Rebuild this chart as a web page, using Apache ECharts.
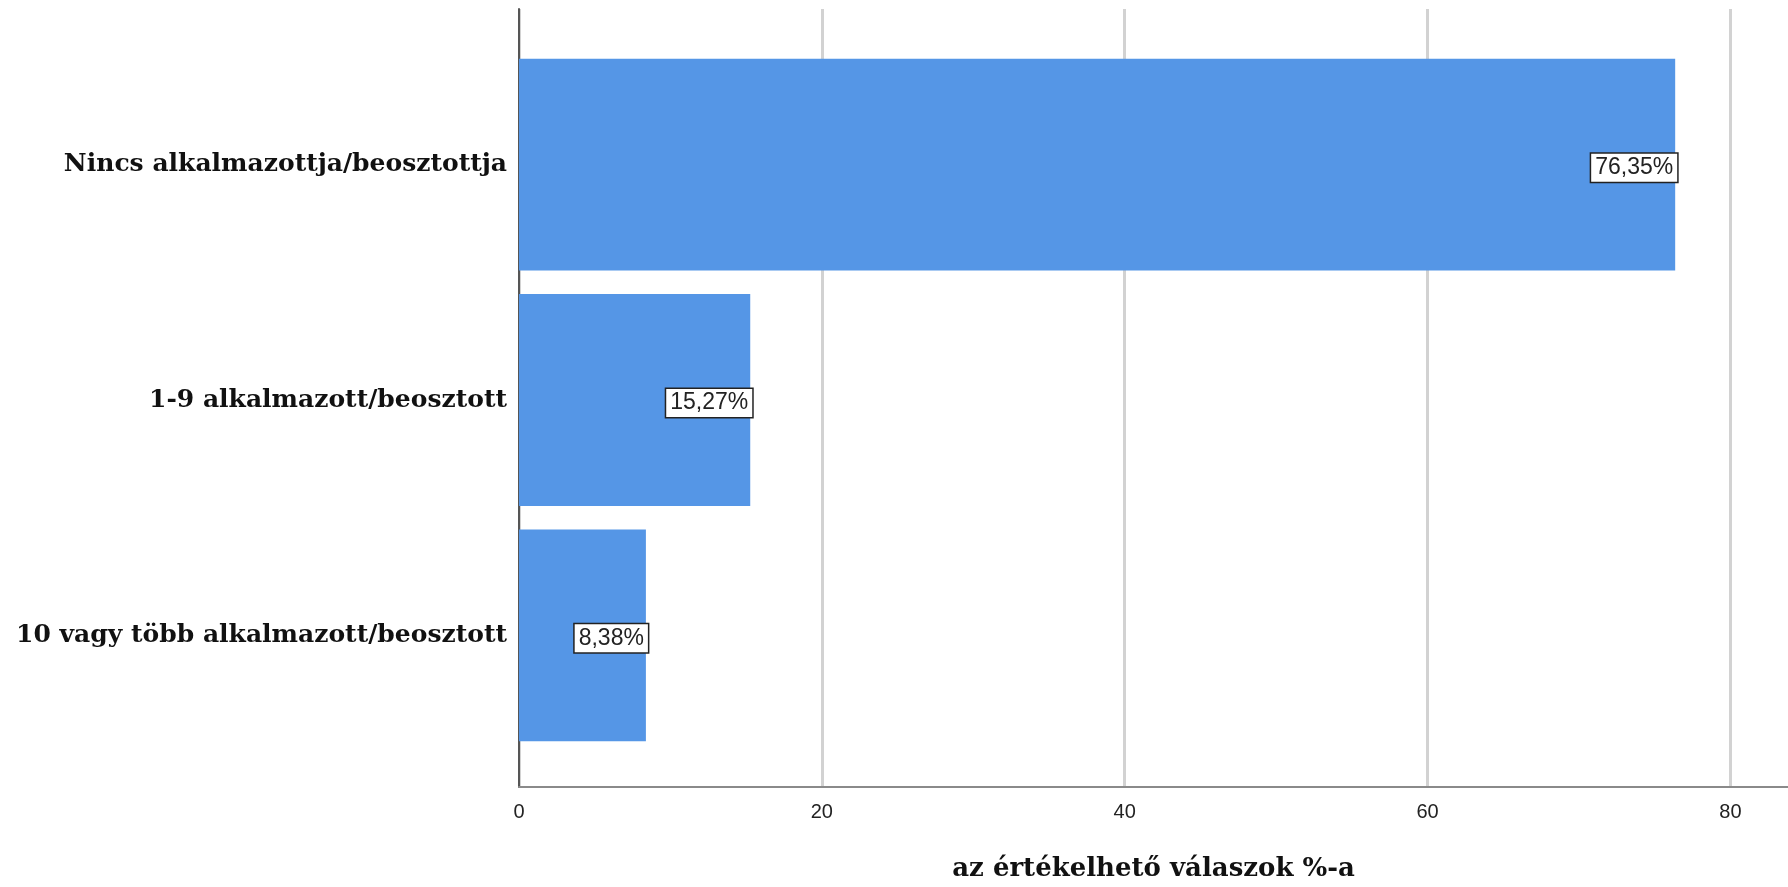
<!DOCTYPE html>
<html>
<head>
<meta charset="utf-8">
<script src="https://cdn.jsdelivr.net/npm/echarts@6/dist/echarts.min.js"></script>
<style>html,body{margin:0;padding:0;background:#fff;overflow:hidden;}#c{width:1788px;height:887px;}</style>
</head>
<body>
<div id="c"></div>
<script>
const categories = ['Nincs alkalmazottja/beosztottja', '1-9 alkalmazott/beosztott', '10 vagy több alkalmazott/beosztott'];
const values = [76.35, 15.27, 8.38];
const xTicks = [0, 20, 40, 60, 80];
const axisTitle = 'az értékelhető válaszok %-a';

const chart = echarts.init(document.getElementById('c'), null, {renderer: 'canvas'});
const XMAX = 83.8;
chart.setOption({
  backgroundColor: '#fff',
  animation: false,
  grid: [
    {left: 519, right: 0, top: 47, bottom: 134},
    {left: 519, right: 0, top: 9, bottom: 96}
  ],
  xAxis: [
    {gridIndex: 0, type: 'value', min: 0, max: XMAX, show: false},
    {gridIndex: 1, type: 'value', min: 0, max: XMAX, interval: 20,
     axisLine: {show: true, lineStyle: {color: '#8a8a8a', width: 2}},
     axisTick: {show: false},
     splitLine: {show: true, showMaxLine: false, lineStyle: {color: '#d2d2d2', width: 3}},
     axisLabel: {showMaxLabel: false, margin: 15, fontFamily: 'Liberation Sans', fontSize: 20, color: '#222',
       formatter: v => xTicks.includes(v) ? String(v) : ''},
     name: axisTitle, nameLocation: 'middle', nameGap: 69,
     nameTextStyle: {fontFamily: 'DejaVu Serif', fontWeight: 'bold', fontSize: 26, color: '#111'}
    }
  ],
  yAxis: [
    {gridIndex: 0, type: 'category', data: categories, inverse: true,
     axisLine: {show: false}, axisTick: {show: false}, splitLine: {show: false},
     axisLabel: {margin: 12, fontFamily: 'DejaVu Serif', fontWeight: 'bold', fontSize: 25, color: '#111',
       padding: [11, 0, 0, 0]}},
    {gridIndex: 1, type: 'value', min: 0, max: 1,
     axisLine: {show: true, onZero: false, lineStyle: {color: '#555', width: 2}},
     axisTick: {show: false}, axisLabel: {show: false}, splitLine: {show: false}}
  ],
  series: [{
    type: 'bar', xAxisIndex: 0, yAxisIndex: 0, data: values,
    barCategoryGap: '10%',
    itemStyle: {color: '#5596E6'},
    label: {show: true, position: 'insideRight', distance: -2, offset: [0, 3],
      formatter: p => p.value.toFixed(2).replace('.', ',') + '%',
      fontFamily: 'Liberation Sans', fontSize: 23, color: '#222',
      backgroundColor: '#fff', borderColor: '#222', borderWidth: 1.5,
      padding: [3, 4, 2, 4]}
  }]
});
</script>
</body>
</html>
